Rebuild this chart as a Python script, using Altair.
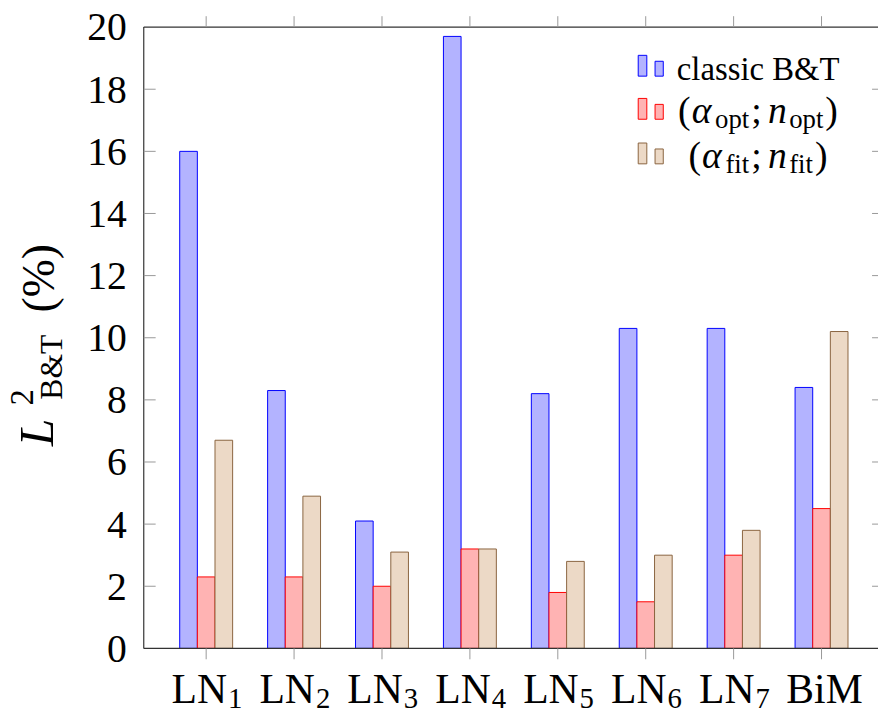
import altair as alt
import pandas as pd

# ---------------- data ----------------
categories = ["LN1", "LN2", "LN3", "LN4", "LN5", "LN6", "LN7", "BiM"]
label_main = ["LN", "LN", "LN", "LN", "LN", "LN", "LN", "BiM"]
label_sub = ["1", "2", "3", "4", "5", "6", "7", ""]
series_keys = ["classic", "opt", "fit"]
classic_bt = [16.0, 8.3, 4.1, 19.7, 8.2, 10.3, 10.3, 8.4]
alpha_opt = [2.3, 2.3, 2.0, 3.2, 1.8, 1.5, 3.0, 4.5]
alpha_fit = [6.7, 4.9, 3.1, 3.2, 2.8, 3.0, 3.8, 10.2]
y_ticks = [0, 2, 4, 6, 8, 10, 12, 14, 16, 18, 20]

# ---------------- style ----------------
fills = ["#b3b3ff", "#ffb3b3", "#ecd9c6"]
strokes = ["#0000ff", "#ff0000", "#8a6440"]
FONT = "Liberation Serif"
W, H = 741, 627          # visible plot area
OX, OY = 145, 24         # plot origin on the page
FRAME_W = 747            # full axis width (right edge falls off the page)
TICK = "#999999"
FRAME = "#333333"

rows = []
for i, c in enumerate(categories):
    for k, vals in zip(series_keys, [classic_bt, alpha_opt, alpha_fit]):
        rows.append({"cat": c, "series": k, "value": vals[i]})
df = pd.DataFrame(rows)
cat_df = pd.DataFrame({"cat": categories, "main": label_main, "sub": label_sub})
ytick_df = pd.DataFrame({"t": y_ticks, "lab": [str(v) for v in y_ticks]})
yinner_df = pd.DataFrame({"t": y_ticks[1:-1]})

xscale = alt.Scale(domain=categories, range=[0, FRAME_W], paddingInner=0.398, paddingOuter=0.409)
yscale = alt.Scale(domain=[0, 20], nice=False, zero=True)
X = alt.X("cat:N", scale=xscale, sort=categories, axis=None)

bars = alt.Chart(df).mark_bar(strokeWidth=1).encode(
    x=X,
    xOffset=alt.XOffset("series:N", sort=series_keys,
                        scale=alt.Scale(domain=series_keys, paddingInner=0, paddingOuter=0)),
    y=alt.Y("value:Q", scale=yscale, axis=None),
    fill=alt.Fill("series:N", scale=alt.Scale(domain=series_keys, range=fills), legend=None),
    stroke=alt.Stroke("series:N", scale=alt.Scale(domain=series_keys, range=strokes), legend=None),
)

one = lambda: alt.Data(values=[{"a": 1}])

def rule(x1, x2, y1, y2, color=FRAME, w=1.2):
    return alt.Chart(one()).mark_rule(color=color, strokeWidth=w).encode(
        x=alt.value(x1), x2=alt.value(x2), y=alt.value(y1), y2=alt.value(y2))

frame = [
    rule(0, FRAME_W, 0, 0),
    rule(0, FRAME_W, H, H),
    rule(0, 0, 0, H),
]

Yt = alt.Y("t:Q", scale=yscale, axis=None)
left_ticks = alt.Chart(yinner_df).mark_rule(color=TICK, strokeWidth=1).encode(
    y=Yt, x=alt.value(0), x2=alt.value(12))
right_ticks = alt.Chart(yinner_df).mark_rule(color=TICK, strokeWidth=1).encode(
    y=Yt, x=alt.value(FRAME_W - 12), x2=alt.value(FRAME_W))
ylabels = alt.Chart(ytick_df).mark_text(font=FONT, fontSize=40, align="right", baseline="alphabetic",
                                        dy=13.5, color="black").encode(
    y=Yt, x=alt.value(-17), text="lab:N")
bottom_ticks = alt.Chart(cat_df).mark_rule(color=TICK, strokeWidth=1).encode(
    x=X, y=alt.value(H), y2=alt.value(H + 11))
top_ticks = alt.Chart(cat_df).mark_rule(color=TICK, strokeWidth=1).encode(
    x=X, y=alt.value(-11), y2=alt.value(0))

ln_df = cat_df[cat_df["sub"] != ""]
other_df = cat_df[cat_df["sub"] == ""]
ln_main = alt.Chart(ln_df).mark_text(font=FONT, fontSize=42, align="right", baseline="alphabetic",
                                     dx=21, color="black").encode(
    x=X, y=alt.value(706 - OY), text="main:N")
ln_sub = alt.Chart(ln_df).mark_text(font=FONT, fontSize=29, align="left", baseline="alphabetic",
                                    dx=22, color="black").encode(
    x=X, y=alt.value(711 - OY), text="sub:N")
other_lab = alt.Chart(other_df).mark_text(font=FONT, fontSize=42, align="center",
                                          baseline="alphabetic", dx=3, color="black").encode(
    x=X, y=alt.value(706 - OY), text="main:N")


def txt(s, x, y, size, italic=False, align="left", angle=0):
    return alt.Chart(alt.Data(values=[{"t": s}])).mark_text(
        font=FONT, fontSize=size, fontStyle="italic" if italic else "normal",
        align=align, baseline="alphabetic", angle=angle, color="black"
    ).encode(x=alt.value(x - OX), y=alt.value(y - OY), text="t:N")

# y-axis title  L^2_{B&T} (%)
ytitle = [
    txt("L", 53, 447, 50, italic=True, angle=270),
    txt("2", 33, 406, 33, angle=270),
    txt("B&T", 63, 400, 32, angle=270),
    txt("(%)", 54, 312, 46, angle=270),
]

# legend
legend = []
for k, yb in enumerate([73.5, 117.0, 162.0]):
    legend.append(alt.Chart(one()).mark_rect(fill=fills[k], stroke=strokes[k], strokeWidth=1).encode(
        x=alt.value(644 - OX), x2=alt.value(652.7 - OX), y=alt.value(yb - 21 - OY), y2=alt.value(yb - OY)))
    legend.append(alt.Chart(one()).mark_rect(fill=fills[k], stroke=strokes[k], strokeWidth=1).encode(
        x=alt.value(661 - OX), x2=alt.value(669.3 - OX), y=alt.value(yb - 15 - OY), y2=alt.value(yb - OY)))

legend.append(txt("classic B&T", 765, 77.5, 33, align="center"))

F, S = 38, 27
def formula(sub, sub_em, base, center=765):
    parts = [("(", 0.36 * F, F, False, 0), ("α", 0.62 * F, F, True, 0),
             (sub, sub_em * S + 2, S, False, 5), (";", 0.278 * F + 0.17 * F, F, False, 0),
             ("n", 0.56 * F, F, True, 0), (sub, sub_em * S + 2, S, False, 5), (")", 0.34 * F, F, False, 0)]
    total = sum(p[1] for p in parts)
    x = center - total / 2
    out = []
    for s, w, size, it, dy in parts:
        out.append(txt(s, x, base + dy, size, italic=it))
        x += w
    return out

legend += formula("opt", 1.278, 121.0)
legend += formula("fit", 0.889, 166.0)

chart = alt.layer(
    bars, *frame, left_ticks, right_ticks, ylabels, bottom_ticks, top_ticks,
    ln_main, ln_sub, other_lab, *ytitle, *legend
).properties(
    width=W, height=H,
    padding={"left": OX - 8, "top": OY - 8, "right": 0, "bottom": 68},
    autosize="none",
).configure_view(stroke=None)

chart.save("out.html", embed_options={"renderer": "svg", "actions": False})
